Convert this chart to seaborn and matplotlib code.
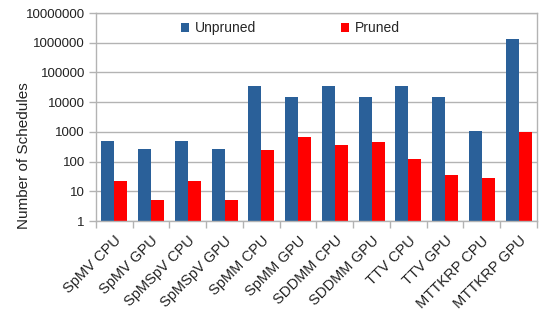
import matplotlib
matplotlib.use("Agg")
import matplotlib.pyplot as plt
import seaborn as sns
import pandas as pd
import numpy as np
from matplotlib.patches import Patch
from matplotlib.ticker import FixedLocator, FixedFormatter, NullLocator

categories = ["SpMV CPU", "SpMV GPU", "SpMSpV CPU", "SpMSpV GPU", "SpMM CPU", "SpMM GPU",
              "SDDMM CPU", "SDDMM GPU", "TTV CPU", "TTV GPU", "MTTKRP CPU", "MTTKRP GPU"]
unpruned = [480, 260, 480, 260, 36000, 14500, 36000, 14500, 36000, 14500, 1050, 1300000]
pruned = [22, 5, 22, 5, 240, 660, 355, 450, 120, 35, 28, 980]
series = ["Unpruned", "Pruned"]
colors = ["#2a6099", "#ff0000"]
ytick_vals = [1, 10, 100, 1000, 10000, 100000, 1000000, 10000000]
ytick_labels = ["1", "10", "100", "1000", "10000", "100000", "1000000", "10000000"]

df = pd.DataFrame({
    "Category": categories * 2,
    "Series": [series[0]] * len(categories) + [series[1]] * len(categories),
    "Value": unpruned + pruned,
})

sns.set_theme(style="white")
plt.rcParams["font.family"] = ["Liberation Sans", "DejaVu Sans"]

fig = plt.figure(figsize=(5.45, 3.10), dpi=100)
ax = fig.add_axes([0.1761, 0.287, 0.8092, 0.671])

sns.barplot(data=df, x="Category", y="Value", hue="Series", order=categories,
            hue_order=series, palette=colors, width=0.71, saturation=1,
            edgecolor="none", linewidth=0, ax=ax, legend=False)

ax.set_yscale("log")
ax.set_ylim(1, 10000000)
ax.set_xlim(-0.5, len(categories) - 0.5)
ax.yaxis.set_major_locator(FixedLocator(ytick_vals))
ax.yaxis.set_major_formatter(FixedFormatter(ytick_labels))
ax.yaxis.set_minor_locator(NullLocator())
ax.grid(axis="y", color="#b3b3b3", linewidth=1)
ax.set_axisbelow(True)

for s in ax.spines.values():
    s.set_color("#b3b3b3")
    s.set_linewidth(1)

ax.tick_params(axis="y", which="major", length=5, width=1, color="#b3b3b3",
               labelsize=9.5, pad=3, left=True, labelcolor="#222222")
ax.set_xticks(range(len(categories)))
ax.set_xticklabels(categories, rotation=45, ha="right", rotation_mode="anchor",
                   fontsize=10.5, color="#222222")
ax.tick_params(axis="x", which="major", length=0, pad=9)
ax.set_xticks(np.arange(-0.5, len(categories), 1.0), minor=True)
ax.tick_params(axis="x", which="minor", length=5, width=1, color="#b3b3b3", bottom=True)

ax.set_xlabel("")
ax.set_ylabel("Number of Schedules", fontsize=11, color="#222222")
ax.yaxis.set_label_coords(-0.147, 0.3125)

handles = [Patch(facecolor=c, edgecolor="none") for c in colors]
ax.legend(handles, series, loc="center", bbox_to_anchor=(0.44, 0.928), ncol=2,
          frameon=False, fontsize=10, handlelength=0.6, handleheight=0.6,
          handletextpad=0.4, columnspacing=6.1)

fig.savefig("out.png", dpi=100)
